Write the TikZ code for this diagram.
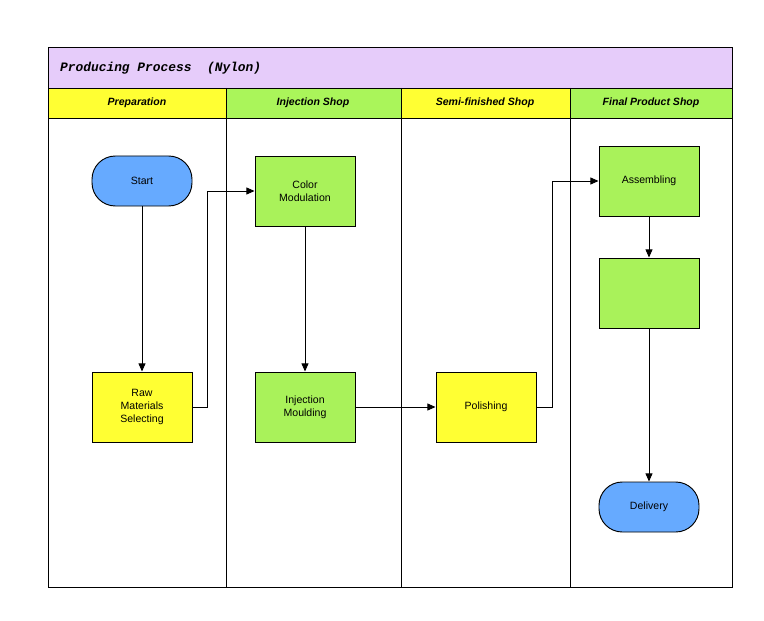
\documentclass[tikz,border=0pt]{standalone}
\usepackage{fontspec}
\setmainfont{Liberation Sans}
\newfontfamily\titlefont{Liberation Mono}
\usetikzlibrary{positioning, arrows.meta}
\definecolor{lanepurple}{HTML}{E6CCFA}
\definecolor{laneyellow}{HTML}{FFFF33}
\definecolor{lanegreen}{HTML}{AAF55A}
\definecolor{boxgreen}{HTML}{A9F25A}
\definecolor{boxblue}{HTML}{66AAFF}
\tikzset{
  proc/.style={draw, thick, minimum width=3cm, minimum height=2.1cm, align=center, font=\fontsize{9}{11}\selectfont},
  term/.style={proc, rounded corners=0.7cm, minimum height=1.5cm, fill=boxblue},
  head/.style={font=\bfseries\itshape\fontsize{9}{11}\selectfont},
  flow/.style={thick, -{Triangle[length=7pt,width=6pt]}}
}
\begin{document}
\begin{tikzpicture}[x=0.03cm, y=-0.03cm]
\useasboundingbox (0,0) rectangle (764,620);
% lanes
\fill[lanepurple] (48,47) rectangle (732,88);
\fill[laneyellow] (48,88) rectangle (226,118);
\fill[lanegreen] (226,88) rectangle (401,118);
\fill[laneyellow] (401,88) rectangle (570,118);
\fill[lanegreen] (570,88) rectangle (732,118);
\draw[thick] (48,47) rectangle (732,587);
\draw[thick] (48,88) -- (732,88) (48,118) -- (732,118);
\foreach \x in {226,401,570} \draw[thick] (\x,88) -- (\x,587);
\node[anchor=west, font=\titlefont\bfseries\itshape\fontsize{11}{13}\selectfont] (title) at (56,68) {Producing Process\ \ (Nylon)};
\node[head] (hprep) at (137,103) {Preparation};
\node[head] (hinj) at (313,103) {Injection Shop};
\node[head] (hsemi) at (485,103) {Semi-finished Shop};
\node[head] (hfin) at (651,103) {Final Product Shop};
% steps
\node[term] (start) at (142,181) {Start};
\node[proc, fill=laneyellow] (raw) at (142,407) {Raw\\Materials\\Selecting};
\node[proc, fill=boxgreen] (color) at (305,191) {Color\\Modulation};
\node[proc, fill=boxgreen] (inject) at (305,407) {Injection\\Moulding};
\node[proc, fill=laneyellow] (polish) at (486,407) {Polishing};
\node[proc, fill=boxgreen] (assem) at (649,181) {Assembling};
\node[proc, fill=boxgreen] (blank) at (649,293) {};
\node[term] (deliv) at (649,507) {Delivery};
% connectors
\draw[flow] (start) -- (raw);
\draw[flow] (raw.east) -- (207,407) |- (color.west);
\draw[flow] (color) -- (inject);
\draw[flow] (inject) -- (polish);
\draw[flow] (polish.east) -- (552,407) |- (assem.west);
\draw[flow] (assem) -- (blank);
\draw[flow] (blank) -- (deliv);
\end{tikzpicture}
\end{document}
